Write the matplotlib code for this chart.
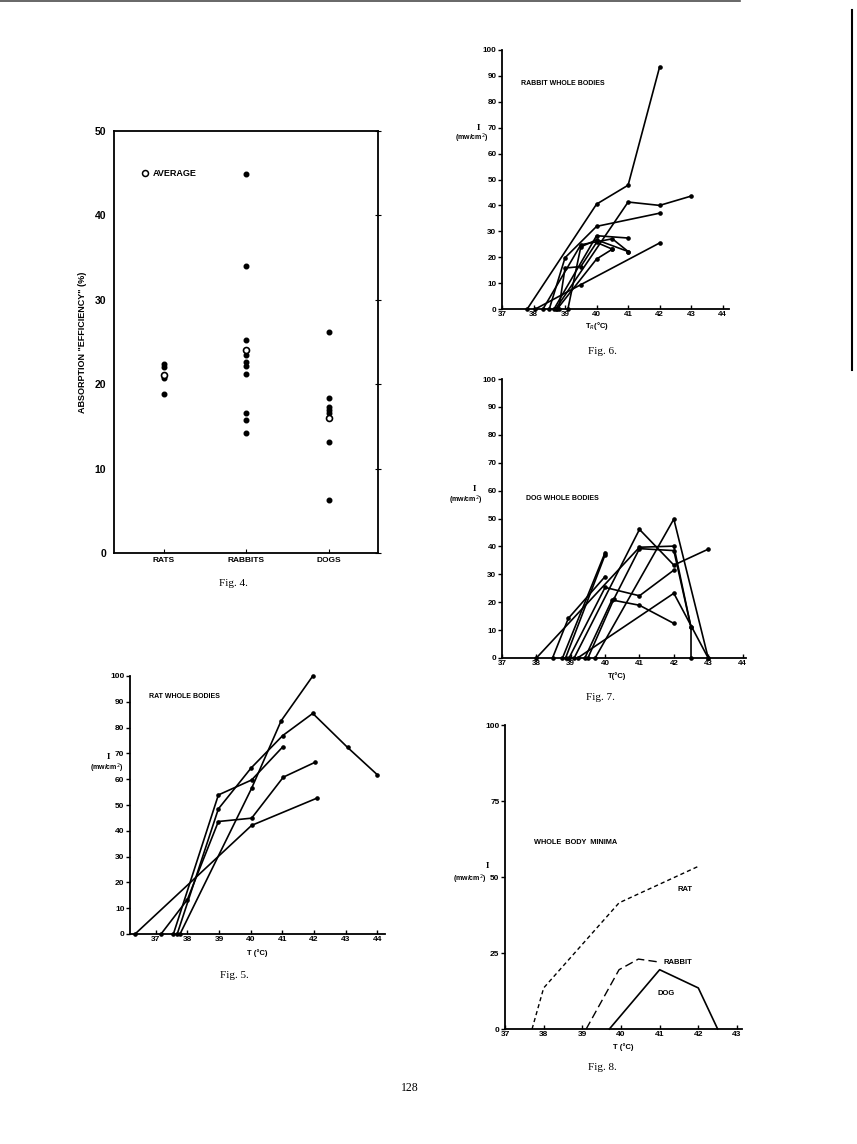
import matplotlib
matplotlib.use('Agg')
import matplotlib.pyplot as plt
from matplotlib.lines import Line2D

# ---------------- data ----------------
# Fig. 4 absorption efficiency (%)
categories = ['RATS', 'RABBITS', 'DOGS']
rats_eff = [22.4, 22.0, 20.7, 18.8]
rabbits_eff = [44.9, 34.0, 25.2, 23.5, 22.6, 22.1, 21.2, 16.6, 15.8, 14.2]
dogs_eff = [26.2, 18.4, 17.3, 16.9, 16.6, 13.2, 6.3]
avg_eff = [21.1, 24.1, 16.0]

# Fig. 6 rabbit whole bodies: T_R (degC) vs I (mw/cm2)
rabbit_T = [
    [37.8, 40.0, 41.0, 42.0],
    [38.7, 41.0, 42.0, 43.0],
    [38.5, 39.0, 40.0, 42.0],
    [38.3, 39.5, 40.5, 41.0],
    [38.65, 40.0, 41.0],
    [38.8, 39.0, 39.5, 40.0, 40.5],
    [38.75, 40.0, 40.5],
    [38.06, 39.5, 42.0],
    [39.09, 39.5, 40.0, 41.0],
]
rabbit_I = [
    [0, 40.5, 47.8, 93.5],
    [0, 41.3, 40.0, 43.6],
    [0, 19.8, 31.9, 37.0],
    [0, 24.8, 27.1, 22.2],
    [0, 28.3, 27.4],
    [0, 15.8, 16.4, 25.7, 23.1],
    [0, 19.3, 23.1],
    [0, 9.4, 25.5],
    [0, 24.0, 26.7, 22.2],
]

# Fig. 7 dog whole bodies
dog_T = [
    [38.0, 41.0, 42.0, 42.5, 42.5],
    [38.47, 38.93, 40.0],
    [38.76, 40.0],
    [38.85, 40.0],
    [38.95, 40.0, 41.0, 42.0],
    [39.1, 41.0, 42.0, 43.0],
    [39.41, 40.2, 41.0, 42.0],
    [39.71, 42.0, 43.0],
    [39.2, 42.0, 43.0],
    [39.5, 40.25, 41.0, 42.0, 42.5],
]
dog_I = [
    [0, 39.7, 40.1, 11.0, 0],
    [0, 14.2, 29.2],
    [0, 37.8],
    [0, 37.0],
    [0, 25.3, 22.3, 31.5],
    [0, 46.1, 33.3, 39.0],
    [0, 20.8, 18.9, 12.4],
    [0, 49.8, 0],
    [0, 23.2, 0],
    [0, 21.0, 39.2, 38.5, 11.0],
]

# Fig. 5 rat whole bodies
rat_T = [
    [36.35, 40.03, 42.08],
    [37.17, 38.0, 38.98, 40.03, 41.03, 42.04],
    [37.56, 38.98, 40.03, 41.01],
    [37.68, 38.98, 40.01, 41.01, 41.96, 43.06, 44.0],
    [37.77, 40.03, 40.96, 41.96],
]
rat_I = [
    [0, 42.1, 52.6],
    [0, 13.3, 43.6, 44.9, 60.8, 66.6],
    [0, 53.9, 59.7, 72.5],
    [0, 48.5, 64.3, 76.9, 85.5, 72.3, 61.7],
    [0, 56.5, 82.6, 100.0],
]

# Fig. 8 whole body minima
min_rat_T = [37.7, 38.0, 39.95, 42.0]
min_rat_I = [0, 13.5, 41.5, 53.5]
min_rabbit_T = [39.1, 39.95, 40.45, 41.0]
min_rabbit_I = [0, 19.5, 23.0, 22.0]
min_dog_T = [39.7, 41.0, 42.0, 42.5]
min_dog_I = [0, 19.5, 13.5, 0]

# ---------------- layout helpers ----------------
W, H = 857, 1144
fig = plt.figure(figsize=(W / 100, H / 100), dpi=100)
fig.patch.set_facecolor('white')

SANS = ['Liberation Sans', 'DejaVu Sans']
SERIF = ['Liberation Serif', 'DejaVu Serif']


def rect(x0, y0, x1, y1):
    return [x0 / W, 1 - y1 / H, (x1 - x0) / W, (y1 - y0) / H]


def ftext(x, y, s, **kw):
    kw.setdefault('family', SANS)
    kw.setdefault('color', 'black')
    fig.text(x / W, 1 - y / H, s, **kw)


def style_line_ax(ax, xlim, ylim, xticks, yticks, fs):
    ax.set_xlim(*xlim)
    ax.set_ylim(*ylim)
    for s in ['top', 'right']:
        ax.spines[s].set_visible(False)
    for s in ['left', 'bottom']:
        ax.spines[s].set_linewidth(1.3)
    ax.set_xticks(xticks)
    ax.set_yticks(yticks)
    ax.tick_params(axis='x', direction='in', length=3, width=1, labelsize=fs, pad=1.5)
    ax.tick_params(axis='y', direction='out', length=3, width=1, labelsize=fs, pad=1)
    for lab in ax.get_xticklabels() + ax.get_yticklabels():
        lab.set_family(SANS)
        lab.set_fontweight('bold')
    ax.patch.set_alpha(0)


def draw_lines(ax, xs, ys):
    for x, y in zip(xs, ys):
        ax.plot(x, y, color='black', lw=1.2, marker='o', ms=2.3,
                clip_on=False, solid_joinstyle='round')


# ---------------- Fig. 4 ----------------
ax4 = fig.add_axes(rect(114, 131, 378, 553))
ax4.set_xlim(0.4, 3.6)
ax4.set_ylim(0, 50)
groups = [rats_eff, rabbits_eff, dogs_eff]
for i, vals in enumerate(groups):
    ax4.plot([i + 1] * len(vals), vals, 'o', color='black', ms=3.3, clip_on=False)
ax4.plot([1, 2, 3], avg_eff, 'o', mfc='white', mec='black', mew=1.2, ms=4.3, zorder=5)
ax4.plot([0.776], [45], 'o', mfc='white', mec='black', mew=1.1, ms=4.3)
ax4.text(0.87, 45, 'AVERAGE', fontsize=6.5, fontweight='bold', family=SANS, va='center')
ax4.set_xticks([1, 2, 3])
ax4.set_xticklabels(categories)
ax4.set_yticks([0, 10, 20, 30, 40, 50])
ax4.tick_params(axis='x', direction='in', length=3, labelsize=6, pad=3)
ax4.tick_params(axis='y', left=False, right=True, labelleft=True, direction='inout',
                length=5, labelsize=7.5, pad=3)
for lab in ax4.get_xticklabels() + ax4.get_yticklabels():
    lab.set_family(SANS)
    lab.set_fontweight('bold')
for s in ax4.spines.values():
    s.set_linewidth(1.3)
ax4.set_ylabel('ABSORPTION "EFFICIENCY" (%)', fontsize=6.5, fontweight='bold',
               family=SANS, labelpad=6)
ftext(233, 583, 'Fig. 4.', family=SERIF, fontsize=8, ha='center', va='center')

# ---------------- Fig. 6 ----------------
ax6 = fig.add_axes(rect(502, 50, 729, 309))
style_line_ax(ax6, (37, 44.2), (0, 100), list(range(37, 45)), list(range(0, 101, 10)), 5.8)
draw_lines(ax6, rabbit_T, rabbit_I)
ax6.text(37.6, 86.3, 'RABBIT WHOLE BODIES', fontsize=5, fontweight='bold', family=SANS)
ftext(478, 128, 'I', fontsize=6.5, fontweight='bold', ha='center', va='center', family=SERIF)
ftext(472, 138, '(mw/cm$^2$)', fontsize=5, fontweight='bold', ha='center', va='center')
ftext(597, 326, 'T$_R$(°C)', fontsize=5.5, fontweight='bold', ha='center', va='center')
ftext(602, 351, 'Fig. 6.', family=SERIF, fontsize=8, ha='center', va='center')

# ---------------- Fig. 7 ----------------
ax7 = fig.add_axes(rect(502, 379, 746, 658))
style_line_ax(ax7, (37, 44.1), (0, 100), list(range(37, 45)), list(range(0, 101, 10)), 5.8)
draw_lines(ax7, dog_T, dog_I)
ax7.text(37.7, 56.5, 'DOG WHOLE BODIES', fontsize=5, fontweight='bold', family=SANS)
ftext(474, 489, 'I', fontsize=6.5, fontweight='bold', ha='center', va='center', family=SERIF)
ftext(466, 500, '(mw/cm$^2$)', fontsize=5, fontweight='bold', ha='center', va='center')
ftext(617, 676, 'T(°C)', fontsize=5.5, fontweight='bold', ha='center', va='center')
ftext(600, 698, 'Fig. 7.', family=SERIF, fontsize=8, ha='center', va='center')

# ---------------- Fig. 5 ----------------
ax5 = fig.add_axes(rect(130, 676, 385, 934))
style_line_ax(ax5, (36.19, 44.24), (0, 100), list(range(37, 45)), list(range(0, 101, 10)), 6)
draw_lines(ax5, rat_T, rat_I)
ax5.text(36.8, 91.3, 'RAT WHOLE BODIES', fontsize=5, fontweight='bold', family=SANS)
ftext(108, 757, 'I', fontsize=6.5, fontweight='bold', ha='center', va='center', family=SERIF)
ftext(107, 768, '(mw/cm$^2$)', fontsize=5, fontweight='bold', ha='center', va='center')
ftext(257, 953, 'T (°C)', fontsize=5.5, fontweight='bold', ha='center', va='center')
ftext(234, 975, 'Fig. 5.', family=SERIF, fontsize=8, ha='center', va='center')

# ---------------- Fig. 8 ----------------
ax8 = fig.add_axes(rect(505, 725, 742, 1029))
style_line_ax(ax8, (37, 43.13), (0, 100), list(range(37, 44)), [0, 25, 50, 75, 100], 6)
ax8.plot(min_rat_T, min_rat_I, color='black', lw=1.0, ls=(0, (3, 2.2)), clip_on=False)
ax8.plot(min_rabbit_T, min_rabbit_I, color='black', lw=1.0, ls=(0, (6, 3)), clip_on=False)
ax8.plot(min_dog_T, min_dog_I, color='black', lw=1.2, clip_on=False)
ax8.text(37.75, 61, 'WHOLE  BODY  MINIMA', fontsize=5.3, fontweight='bold', family=SANS)
ax8.text(41.45, 45.5, 'RAT', fontsize=5.5, fontweight='bold', family=SANS)
ax8.text(41.1, 22, 'RABBIT', fontsize=5.5, fontweight='bold', family=SANS, va='center')
ax8.text(40.95, 11.3, 'DOG', fontsize=5.5, fontweight='bold', family=SANS)
ftext(487, 866, 'I', fontsize=6.5, fontweight='bold', ha='center', va='center', family=SERIF)
ftext(470, 879, '(mw/cm$^2$)', fontsize=5, fontweight='bold', ha='center', va='center')
ftext(623, 1047, 'T (°C)', fontsize=5.5, fontweight='bold', ha='center', va='center')
ftext(602, 1068, 'Fig. 8.', family=SERIF, fontsize=8, ha='center', va='center')

# page number
ftext(410, 1088, '128', family=SERIF, fontsize=8.5, ha='center', va='center')

# scan edge artefacts
fig.add_artist(Line2D([0, 740 / W], [1 - 1 / H, 1 - 1 / H], color='0.3', lw=1.2))
fig.add_artist(Line2D([852 / W, 852 / W], [1 - 10 / H, 1 - 370 / H], color='black', lw=1.5))

fig.savefig('out.png', dpi=100, facecolor='white')
